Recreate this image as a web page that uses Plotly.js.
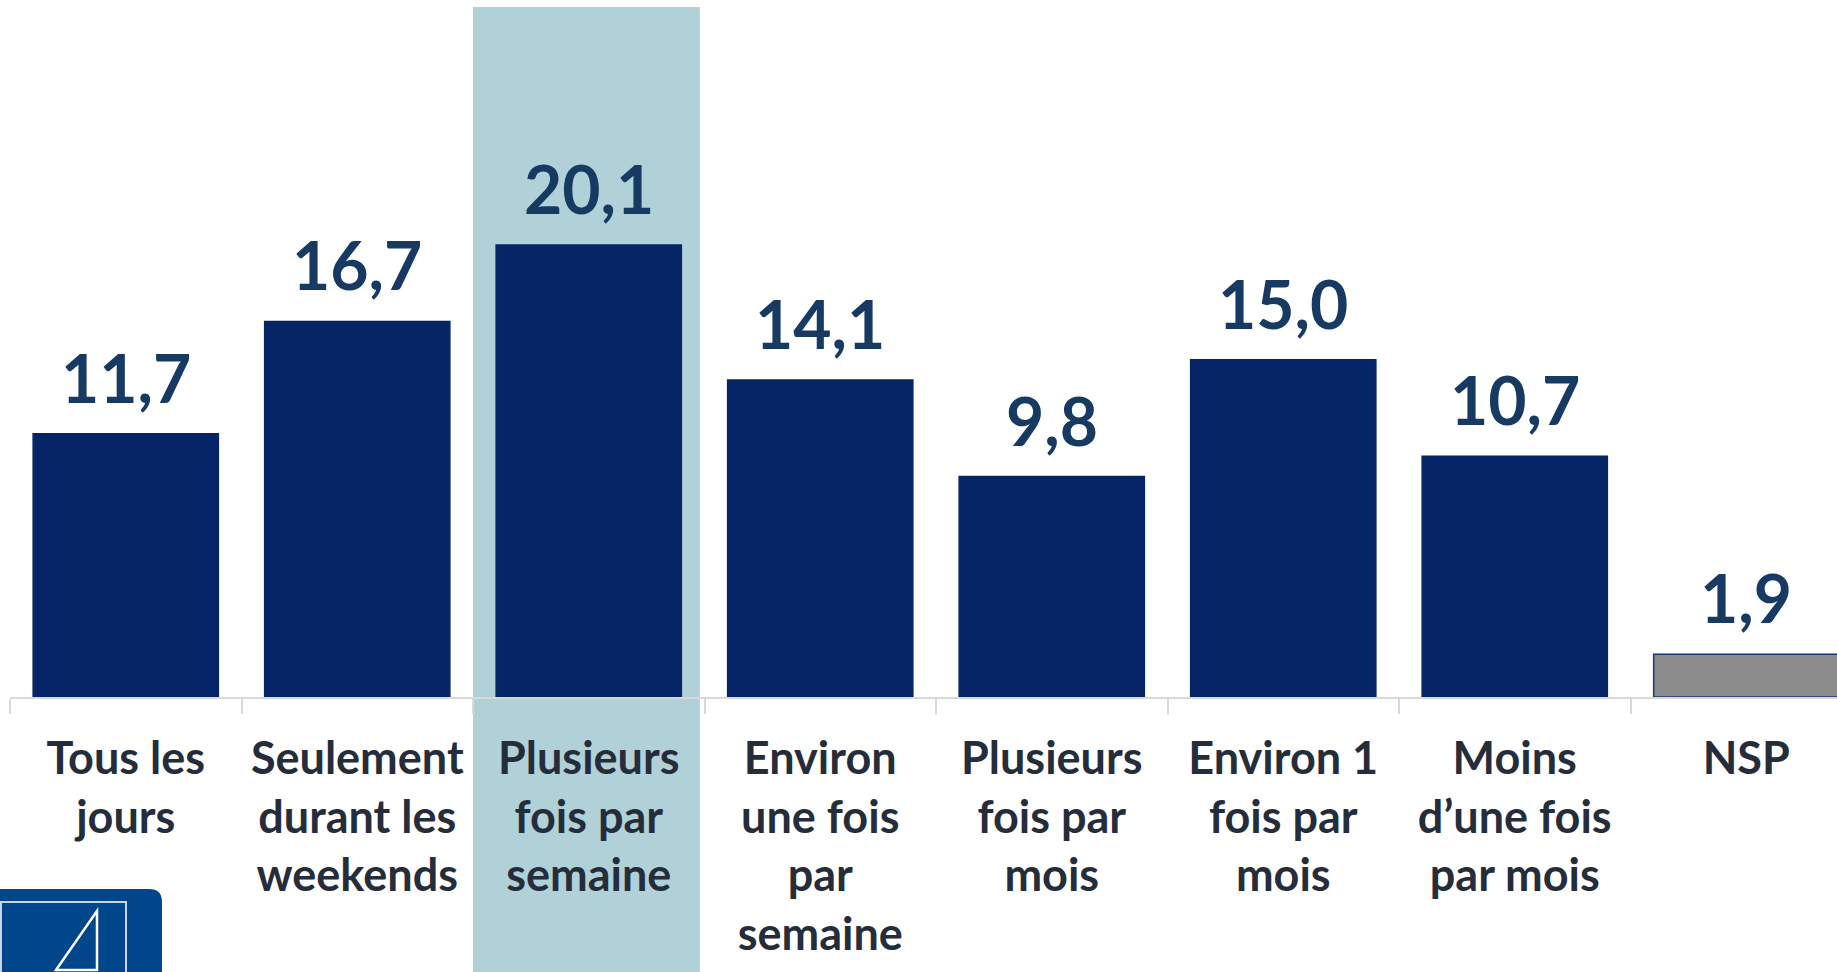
<!DOCTYPE html>
<html>
<head>
<meta charset="utf-8">
<script src="https://cdn.plot.ly/plotly-3.0.1.min.js"></script>
<style>
html,body{margin:0;padding:0;background:#fff;overflow:hidden;}
#chart{width:1837px;height:972px;}
</style>
</head>
<body>
<div id="chart"></div>
<script>
// ---- data ----
const categories = [
  "Tous les<br>jours",
  "Seulement<br>durant les<br>weekends",
  "Plusieurs<br>fois par<br>semaine",
  "Environ<br>une fois<br>par<br>semaine",
  "Plusieurs<br>fois par<br>mois",
  "Environ 1<br>fois par<br>mois",
  "Moins<br>d’une fois<br>par mois",
  "NSP"
];
const values = [11.7, 16.7, 20.1, 14.1, 9.8, 15.0, 10.7, 1.9];
const highlightIndex = 2;

// ---- styling ----
const NAVY = "#062566";
const GREY = "#8c8c8c";
const barColors = categories.map((c, i) => i === categories.length - 1 ? GREY : NAVY);
const lineColors = categories.map((c, i) => i === categories.length - 1 ? "#1b3673" : NAVY);

// page geometry helpers (pixel -> paper)
const W = 1837, H = 972;
const mL = 10, mT = 0, baseY = 697;
const plotW = W - mL, plotH = baseY - mT;
const px = v => (v - mL) / plotW;
const py = v => (baseY - v) / plotH;

const fmt = v => v.toFixed(1).replace('.', ',');

const trace = {
  type: 'bar',
  x: categories,
  y: values,
  marker: {color: barColors, line: {color: lineColors, width: 1.5}},
  hoverinfo: 'none'
};

const annotations = values.map((v, i) => ({
  x: categories[i], y: v, xref: 'x', yref: 'y',
  text: fmt(v), showarrow: false,
  xanchor: 'center', yanchor: 'bottom', yshift: 15,
  font: {family: 'Lato', size: 66, color: '#173a63', weight: 700}
}));

const shapes = [
  // highlight band behind the selected category
  {type: 'rect', layer: 'below', xref: 'x', yref: 'paper',
   x0: highlightIndex - 0.5, x1: highlightIndex + 0.48, y0: py(H + 5), y1: py(7),
   fillcolor: '#b1d1d8', line: {width: 0}},
  // logo (bottom-left)
  {type: 'path', layer: 'above', xref: 'paper', yref: 'paper',
   path: `M ${px(-2)},${py(H+5)} L ${px(-2)},${py(889)} L ${px(149)},${py(889)} Q ${px(162)},${py(889)} ${px(162)},${py(902)} L ${px(162)},${py(H+5)} Z`,
   fillcolor: '#00468b', line: {width: 0}},
  {type: 'path', layer: 'above', xref: 'paper', yref: 'paper',
   path: `M ${px(1)},${py(H+5)} L ${px(1)},${py(902)} L ${px(126)},${py(902)} L ${px(126)},${py(H+5)}`,
   fillcolor: 'rgba(0,0,0,0)', line: {color: '#c9d4e4', width: 2}},
  {type: 'path', layer: 'above', xref: 'paper', yref: 'paper',
   path: `M ${px(97)},${py(911)} L ${px(97)},${py(970)} L ${px(56)},${py(970)} Z`,
   fillcolor: 'rgba(0,0,0,0)', line: {color: '#ffffff', width: 2.5}}
];

const layout = {
  width: W, height: H,
  margin: {l: mL, r: 0, t: mT, b: H - baseY, pad: 0},
  paper_bgcolor: '#ffffff', plot_bgcolor: 'rgba(0,0,0,0)',
  showlegend: false,
  bargap: 0.2,
  xaxis: {
    type: 'category',
    range: [-0.5, -0.5 + plotW / 231.5],
    showline: true, linecolor: '#d9d9d9', linewidth: 2,
    ticks: 'outside', tickson: 'boundaries', ticklen: 15, tickcolor: '#d9d9d9', tickwidth: 2,
    tickfont: {family: 'Lato', size: 45, color: '#252d3b', weight: 700},
    ticklabelstandoff: 21,
    showgrid: false, zeroline: false, fixedrange: true
  },
  yaxis: {
    range: [0, plotH / 22.49],
    visible: false, showgrid: false, zeroline: false, fixedrange: true
  },
  annotations: annotations,
  shapes: shapes
};

Plotly.newPlot('chart', [trace], layout, {displayModeBar: false, staticPlot: true});
</script>
</body>
</html>
